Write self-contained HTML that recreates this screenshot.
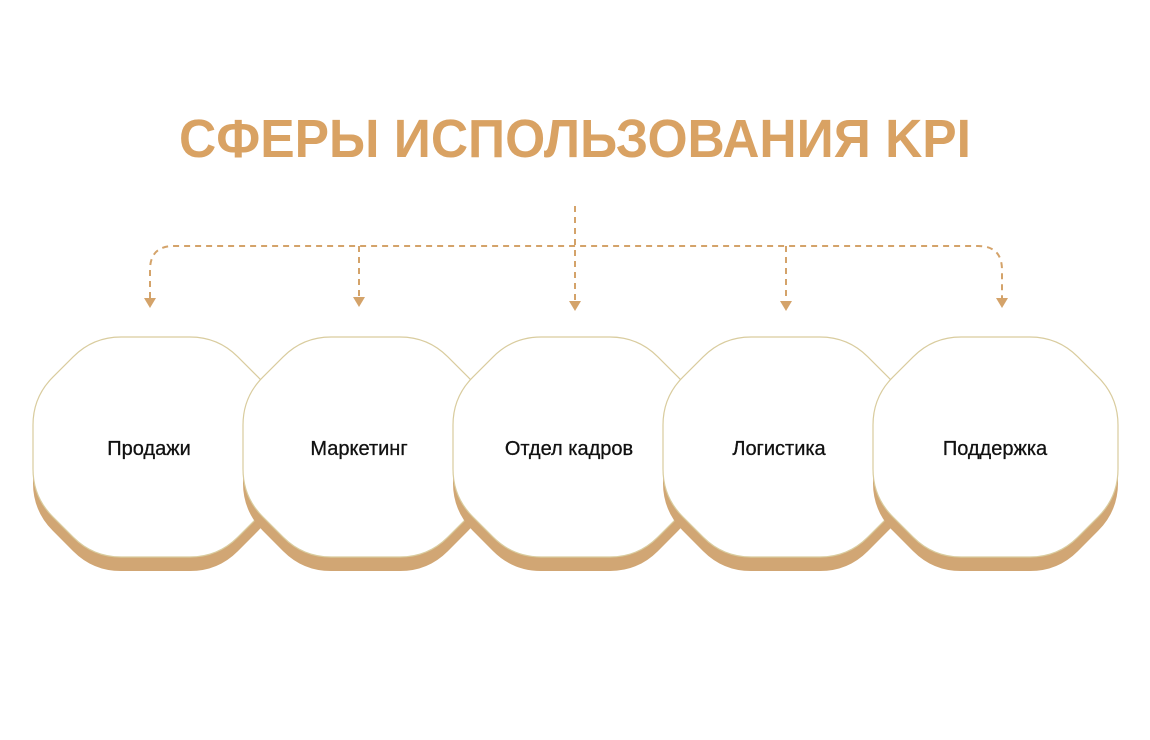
<!DOCTYPE html>
<html><head><meta charset="utf-8"><style>
html,body{margin:0;padding:0;background:#fff;}
svg{display:block;}
</style></head><body>
<svg width="1150" height="740" viewBox="0 0 1150 740" xmlns="http://www.w3.org/2000/svg">
<defs>
<path id="oct" d="M 88,0 L 157,0 Q 185,0 204.8,19.8 L 225.2,40.2 Q 245,60 245,88 L 245,132 Q 245,160 225.2,179.8 L 204.8,200.2 Q 185,220 157,220 L 88,220 Q 60,220 40.2,200.2 L 19.8,179.8 Q 0,160 0,132 L 0,88 Q 0,60 19.8,40.2 L 40.2,19.8 Q 60,0 88,0 Z"/>
</defs>
<text x="575" y="157" text-anchor="middle" font-family="Liberation Sans, sans-serif" font-weight="bold" font-size="54" fill="#d9a263" textLength="792" lengthAdjust="spacingAndGlyphs">СФЕРЫ ИСПОЛЬЗОВАНИЯ KPI</text>

<g fill="none" stroke="#d4a36a" stroke-width="2" stroke-dasharray="6,5">
<path d="M575,206 L575,300"/>
<path d="M150,298 L150,270 Q150,246 174,246 L978,246 Q1002,246 1002,270 L1002,298"/>
<path d="M359,246 L359,298"/>
<path d="M786,246 L786,300"/>
</g>
<g fill="#d4a36a">
<path d="M144,298 L156,298 L150,308 Z"/>
<path d="M353,297 L365,297 L359,307 Z"/>
<path d="M569,301 L581,301 L575,311 Z"/>
<path d="M780,301 L792,301 L786,311 Z"/>
<path d="M996,298 L1008,298 L1002,308 Z"/>
</g>

<g font-family="Liberation Sans, sans-serif" font-size="20" fill="#111" text-anchor="middle" stroke="#111" stroke-width="0.3">
<g transform="translate(33,337)"><use href="#oct" y="14" fill="#d1a674" stroke="none"/><use href="#oct" fill="#fff" stroke="#d9cc9e" stroke-width="1.2"/><text x="116" y="118">Продажи</text></g>
<g transform="translate(243,337)"><use href="#oct" y="14" fill="#d1a674" stroke="none"/><use href="#oct" fill="#fff" stroke="#d9cc9e" stroke-width="1.2"/><text x="116" y="118">Маркетинг</text></g>
<g transform="translate(453,337)"><use href="#oct" y="14" fill="#d1a674" stroke="none"/><use href="#oct" fill="#fff" stroke="#d9cc9e" stroke-width="1.2"/><text x="116" y="118">Отдел кадров</text></g>
<g transform="translate(663,337)"><use href="#oct" y="14" fill="#d1a674" stroke="none"/><use href="#oct" fill="#fff" stroke="#d9cc9e" stroke-width="1.2"/><text x="116" y="118">Логистика</text></g>
<g transform="translate(873,337)"><use href="#oct" y="14" fill="#d1a674" stroke="none"/><use href="#oct" fill="#fff" stroke="#d9cc9e" stroke-width="1.2"/><text x="122" y="118">Поддержка</text></g>
</g>
</svg>
</body></html>
